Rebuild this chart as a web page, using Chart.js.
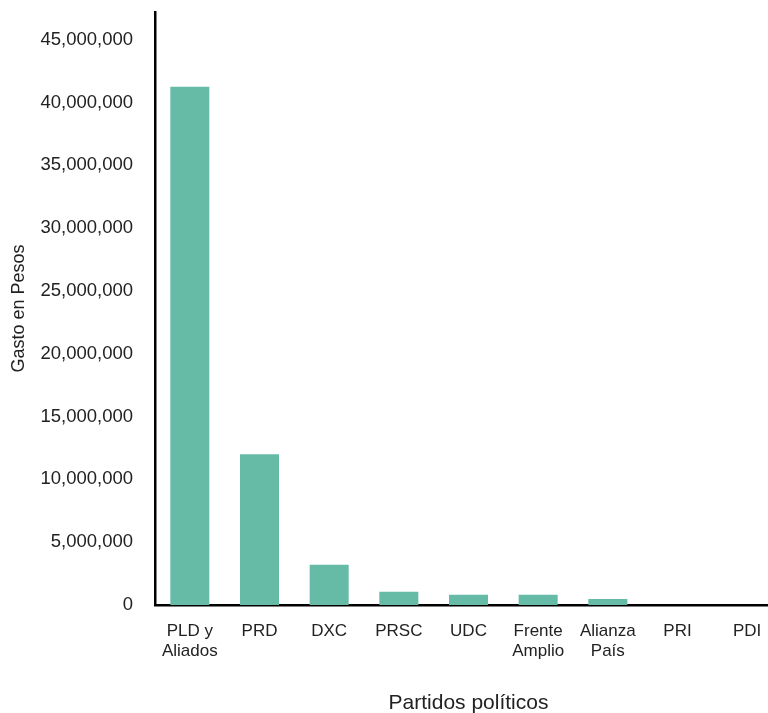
<!DOCTYPE html>
<html>
<head>
<meta charset="utf-8">
<script src="https://cdn.jsdelivr.net/npm/chart.js@4"></script>
<style>
  body { margin: 0; overflow: hidden; background: #fff; }
  #wrap { width: 786px; height: 713px; }
</style>
</head>
<body>
<div id="wrap"><canvas id="gastoChart"></canvas></div>
<script>
// Data
const partidos = [["PLD y", "Aliados"], "PRD", "DXC", "PRSC", "UDC", ["Frente", "Amplio"], ["Alianza", "País"], "PRI", "PDI"];
const gasto = [41250000, 12000000, 3200000, 1050000, 820000, 820000, 480000, 0, 0];
const yTicks = [0, 5000000, 10000000, 15000000, 20000000, 25000000, 30000000, 35000000, 40000000, 45000000];

document.addEventListener("DOMContentLoaded", function () {
  const ctx = document.getElementById("gastoChart").getContext("2d");
  new Chart(ctx, {
    type: "bar",
    data: {
      labels: partidos,
      datasets: [
        {
          data: gasto,
          backgroundColor: "#66bba7",
          barPercentage: 0.56,
          categoryPercentage: 1,
        },
      ],
    },
    options: {
      responsive: true,
      maintainAspectRatio: false,
      animation: false,
      layout: { padding: { top: 12, right: 4, left: 4, bottom: -3 } },
      plugins: {
        legend: { display: false },
        tooltip: { enabled: false },
      },
      scales: {
        x: {
          grid: { display: false, drawTicks: false },
          border: { color: "#000", width: 2.5 },
          ticks: {
            color: "#222",
            font: { family: "Liberation Sans", size: 17 },
            padding: 16,
            maxRotation: 0,
            autoSkip: false,
          },
          title: {
            display: true,
            text: "Partidos políticos",
            color: "#222",
            font: { family: "Liberation Sans", size: 21 },
            padding: { top: 13, bottom: 0 },
          },
        },
        y: {
          min: 0,
          max: 47200000,
          grid: { display: false, drawTicks: false },
          border: { color: "#000", width: 2.5 },
          afterBuildTicks: function (scale) {
            scale.ticks = yTicks.map((v) => ({ value: v }));
          },
          afterFit: function (scale) {
            scale.width = 151;
            scale.paddingTop = 0;
            scale.paddingBottom = 0;
          },
          ticks: {
            color: "#222",
            font: { family: "Liberation Sans", size: 18.5 },
            padding: 22,
            callback: function (v) {
              return v.toLocaleString("en-US");
            },
          },
          title: {
            display: true,
            text: "Gasto en Pesos",
            color: "#222",
            font: { family: "Liberation Sans", size: 18 },
            padding: { top: 4, bottom: 0 },
          },
        },
      },
    },
  });
});
</script>
</body>
</html>
